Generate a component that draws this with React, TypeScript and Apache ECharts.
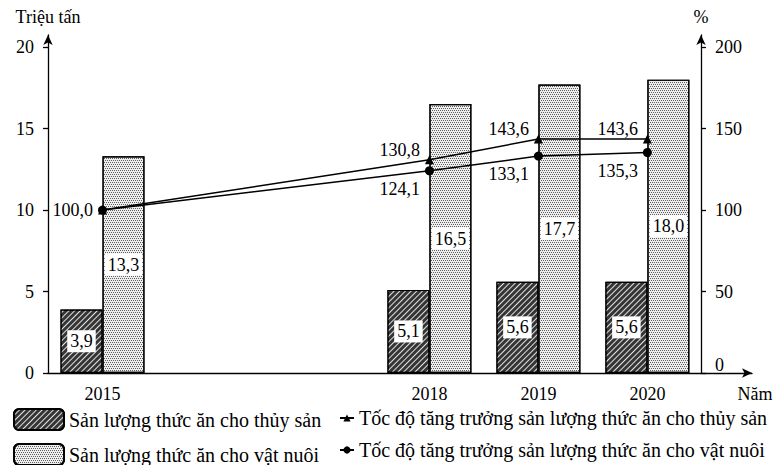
import React, { useEffect, useRef } from "react";
import * as echarts from "echarts";

const years = [2015, 2018, 2019, 2020];
const aquaFeed = [3.9, 5.1, 5.6, 5.6];
const livestockFeed = [13.3, 16.5, 17.7, 18.0];
const aquaGrowth = [100.0, 130.8, 143.6, 143.6];
const livestockGrowth = [100.0, 124.1, 133.1, 135.3];
const leftTicks = [0, 5, 10, 15, 20];
const rightTicks = [0, 50, 100, 150, 200];
const seriesNames = [
  "Sản lượng thức ăn cho thủy sản",
  "Sản lượng thức ăn cho vật nuôi",
  "Tốc độ tăng trưởng sản lượng thức ăn cho thủy sản",
  "Tốc độ tăng trưởng sản lượng thức ăn cho vật nuôi",
];
const leftAxisName = "Triệu tấn";
const rightAxisName = "%";
const xAxisName = "Năm";

const FONT = "Liberation Serif";
const fmt = (v: number) => v.toFixed(1).replace(".", ",");

export default function App() {
  const ref = useRef<HTMLDivElement>(null);
  useEffect(() => {
    if (!ref.current) return;
    document.body.style.margin = "0";
    const chart = echarts.init(ref.current, null, { renderer: "svg" });
    const text = { fontFamily: FONT, fontSize: 18, color: "#000" };
    const axisLine = {
      show: true,
      symbol: ["none", "arrow"],
      symbolSize: [7, 10],
      lineStyle: { color: "#000", width: 1.3 },
    };
    const barLabel = {
      show: true,
      position: "inside",
      ...text,
      backgroundColor: "#fff",
      padding: [3, 3, 1, 3],
      formatter: (p: any) => fmt(p.value[1]),
    };
    const option: any = {
      animation: false,
      textStyle: { fontFamily: FONT },
      grid: { left: 48, top: 35, width: 704, height: 338 },
      xAxis: {
        type: "value",
        min: 2014.5,
        max: 2020.96,
        axisLine,
        axisTick: { show: false },
        splitLine: { show: false },
        axisLabel: {
          ...text,
          margin: 12,
          customValues: years,
          formatter: (v: number) => String(v),
        },
        name: xAxisName,
        nameLocation: "end",
        nameGap: 3,
        nameTextStyle: { ...text, align: "center", verticalAlign: "top", padding: [12, 0, 0, 0] },
      },
      yAxis: [
        {
          type: "value",
          min: 0,
          max: 20.74,
          position: "left",
          axisLine,
          axisTick: { show: true, length: 5, customValues: leftTicks, lineStyle: { color: "#000", width: 1.3 } },
          axisLabel: { ...text, margin: 14, customValues: leftTicks },
          splitLine: { show: false },
          name: leftAxisName,
          nameLocation: "end",
          nameGap: 9,
          nameTextStyle: { ...text },
        },
        {
          type: "value",
          min: 0,
          max: 207.4,
          position: "right",
          offset: -51,
          axisLine,
          axisTick: { show: true, length: 5, customValues: rightTicks, lineStyle: { color: "#000", width: 1.3 } },
          axisLabel: {
            ...text,
            margin: 14,
            customValues: rightTicks,
            formatter: (v: number) => (v === 0 ? "{z|0}" : String(v)),
            rich: { z: { ...text, padding: [0, 0, 16, 0] } },
          },
          splitLine: { show: false },
          name: rightAxisName,
          nameLocation: "end",
          nameGap: 9,
          nameTextStyle: { ...text },
        },
      ],
      legend: [
        {
          orient: "vertical",
          left: 13,
          top: 408,
          height: 80,
          padding: 0,
          itemWidth: 50,
          itemHeight: 21,
          itemGap: 12,
          textStyle: { ...text, fontSize: 20 },
          data: [seriesNames[0], seriesNames[1]],
        },
        {
          orient: "vertical",
          left: 339,
          top: 408,
          height: 80,
          padding: 0,
          itemWidth: 14,
          itemHeight: 9,
          itemGap: 12,
          textStyle: { ...text, fontSize: 20 },
          data: [seriesNames[2], seriesNames[3]],
        },
      ],
      series: [
        {
          name: seriesNames[0],
          type: "bar",
          barWidth: 42,
          barGap: "0%",
          data: years.map((y, i) => [y, aquaFeed[i]]),
          itemStyle: {
            color: "#353535",
            borderColor: "#000",
            borderWidth: 1.2,
            decal: {
              symbol: "rect",
              symbolSize: 1,
              color: "rgba(255,255,255,0.85)",
              dashArrayX: [1, 0],
              dashArrayY: [1, 2.2],
              rotation: -Math.PI / 4,
            },
          },
          label: barLabel,
        },
        {
          name: seriesNames[1],
          type: "bar",
          barWidth: 42,
          barGap: "0%",
          data: years.map((y, i) => [y, livestockFeed[i]]),
          itemStyle: {
            color: "#eeeeee",
            borderColor: "#000",
            borderWidth: 1.2,
            decal: {
              symbol: "rect",
              symbolSize: 1,
              color: "#5f5f5f",
              dashArrayX: [[1, 1], [0, 1, 1, 0]],
              dashArrayY: [1, 1],
            },
          },
          label: barLabel,
        },
        {
          name: seriesNames[2],
          type: "line",
          yAxisIndex: 1,
          symbol: "triangle",
          symbolSize: 9,
          z: 5,
          lineStyle: { color: "#000", width: 1.5 },
          itemStyle: { color: "#000" },
          data: years.map((y, i) => ({
            value: [y, aquaGrowth[i]],
            label: { show: i > 0 },
          })),
          label: {
            show: true,
            position: "left",
            offset: [0, -10],
            ...text,
            formatter: (p: any) => fmt(p.value[1]),
          },
        },
        {
          name: seriesNames[3],
          type: "line",
          yAxisIndex: 1,
          symbol: "circle",
          symbolSize: 9,
          z: 5,
          lineStyle: { color: "#000", width: 1.5 },
          itemStyle: { color: "#000" },
          data: years.map((y, i) => ({
            value: [y, livestockGrowth[i]],
            label: { offset: i === 0 ? [0, 0] : [0, 18] },
          })),
          label: {
            show: true,
            position: "left",
            ...text,
            formatter: (p: any) => fmt(p.value[1]),
          },
        },
      ],
    };
    chart.setOption(option);
    return () => chart.dispose();
  }, []);
  return <div ref={ref} style={{ width: 779, height: 465 }} />;
}
